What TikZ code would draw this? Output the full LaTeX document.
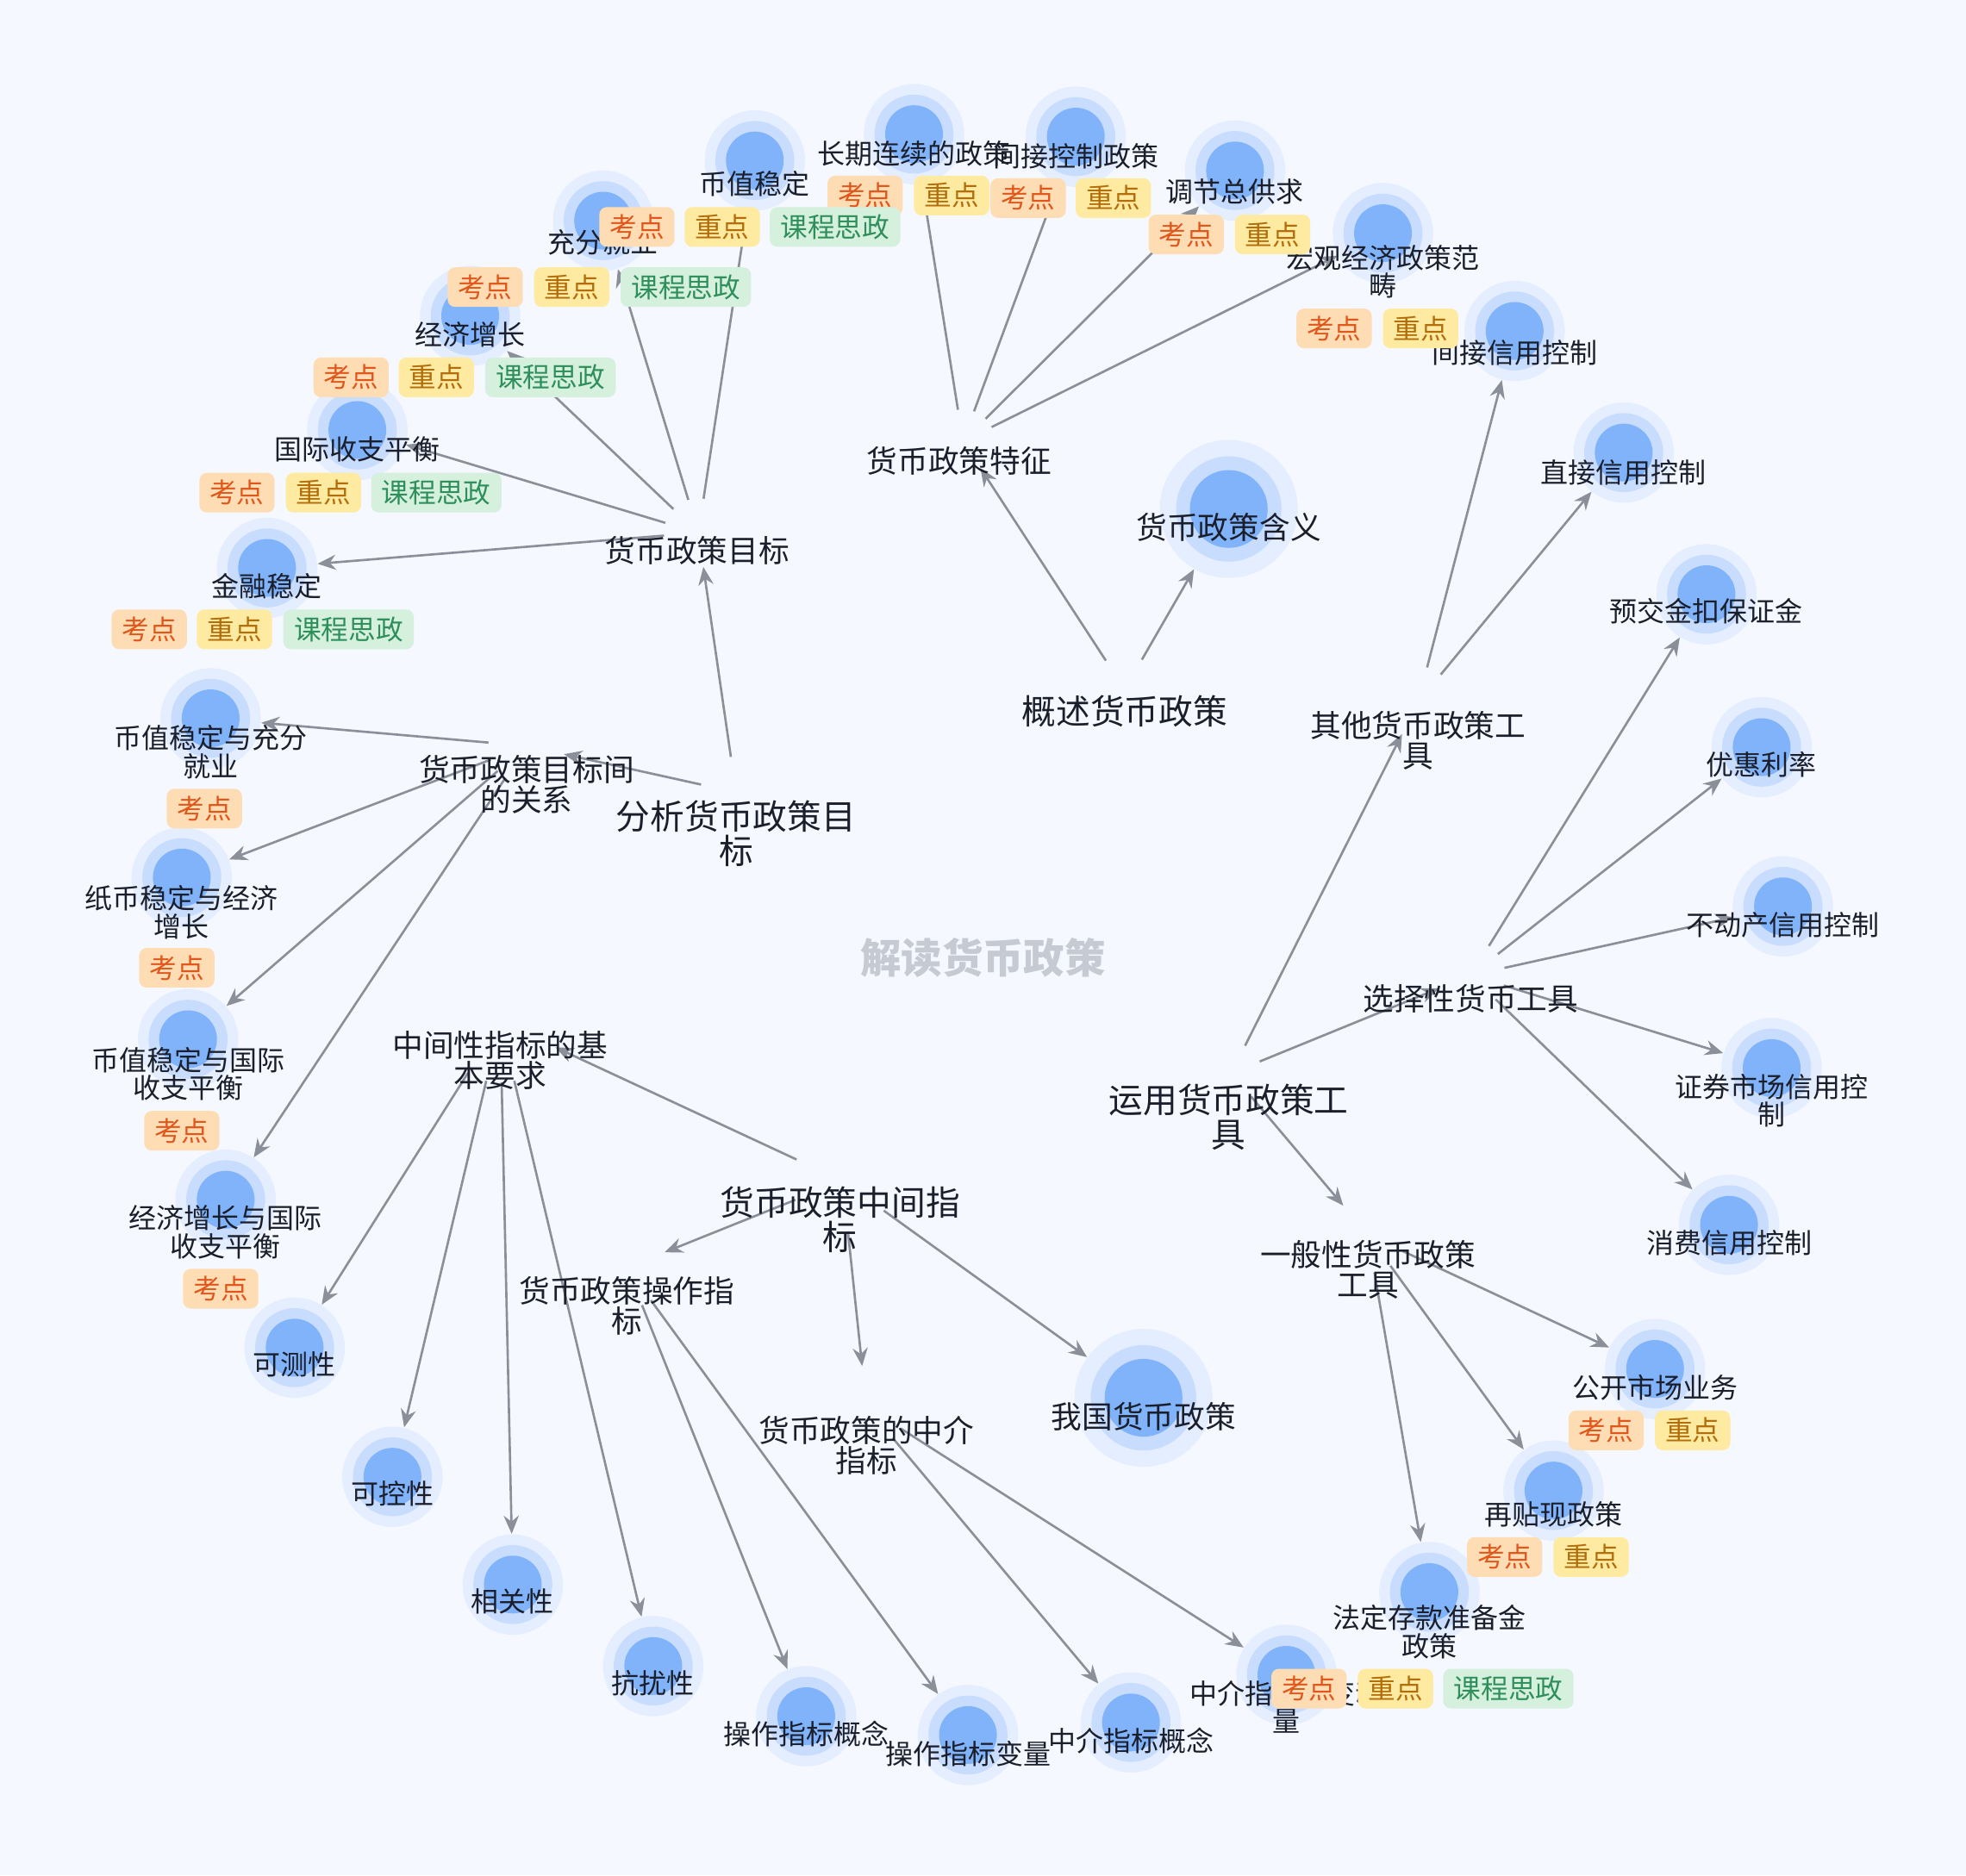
\documentclass[tikz,border=0pt]{standalone}
\usepackage{fontspec}
\newfontfamily\cjk{Noto Sans CJK SC}
\usetikzlibrary{arrows.meta}
\definecolor{paper}{HTML}{F5F8FE}
\definecolor{ink}{HTML}{1A1F2B}
\definecolor{edge}{HTML}{8B8F9A}
\definecolor{haloa}{HTML}{E4EEFE}
\definecolor{halob}{HTML}{C8DCFD}
\definecolor{haloc}{HTML}{80B3FA}
\definecolor{kdfill}{HTML}{FEDDB5}
\definecolor{kdtext}{HTML}{E0561B}
\definecolor{zdfill}{HTML}{FEEAA0}
\definecolor{zdtext}{HTML}{B36E0B}
\definecolor{szfill}{HTML}{D6F0DE}
\definecolor{sztext}{HTML}{2F8F5B}
\definecolor{titlegray}{HTML}{C5CAD3}
\tikzset{
  hub/.style={circle,inner sep=0pt,minimum size=#1,draw=none},
  leaf/.style={circle,inner sep=0pt,minimum size=1.164cm,fill=haloa,draw=none,
    path picture={\fill[halob] (path picture bounding box.center) circle (0.458cm);
                  \fill[haloc] (path picture bounding box.center) circle (0.335cm);}},
  bigleaf/.style={circle,inner sep=0pt,minimum size=1.6cm,fill=haloa,draw=none,
    path picture={\fill[halob] (path picture bounding box.center) circle (0.611cm);
                  \fill[haloc] (path picture bounding box.center) circle (0.451cm);}},
  leaflbl/.style={font=\cjk\fontsize{9.1pt}{9.2pt}\selectfont,text=ink,align=center,inner sep=0pt,anchor=north},
  midlbl/.style={font=\cjk\fontsize{10.15pt}{10pt}\selectfont,text=ink,align=center,inner sep=0pt,anchor=north},
  hublbl/.style={font=\cjk\fontsize{11.3pt}{11.5pt}\selectfont,text=ink,align=center,inner sep=0pt,anchor=north},
  tagbox/.style={rounded corners=2.5pt,inner sep=0pt,minimum height=0.46cm,font=\cjk\fontsize{9pt}{9pt}\selectfont},
  kaodian/.style={tagbox,fill=kdfill,text=kdtext,minimum width=0.873cm},
  zhongdian/.style={tagbox,fill=zdfill,text=zdtext,minimum width=0.873cm},
  sizheng/.style={tagbox,fill=szfill,text=sztext,minimum width=1.513cm},
  jt/.style={-{Stealth[length=6pt,width=5pt,inset=2pt]},draw=edge,line width=0.75pt},
}
\begin{document}
\begin{tikzpicture}[x=0.014547cm,y=-0.014547cm]
  \fill[paper] (0,0) rectangle (1568,1496);
  \useasboundingbox (0,0) rectangle (1568,1496);

  % hubs (no circle drawn)
  \node[hub=0.786cm] (gs) at (897,550) {};
  \node[hub=0.815cm] (fx) at (587,632) {};
  \node[hub=0.698cm] (yy) at (982,856) {};
  \node[hub=1.164cm] (zj) at (672,942) {};
  \node[hub=0.727cm] (tz) at (768,352) {};
  \node[hub=0.786cm] (mb) at (557,425) {};
  \node[hub=0.873cm] (gx) at (420,595) {};
  \node[hub=0.815cm] (qt) at (1131,560) {};
  \node[hub=0.786cm] (xz) at (1173,778) {};
  \node[hub=0.873cm] (yb) at (1091,985) {};
  \node[hub=1.396cm] (jb) at (399,815) {};
  \node[hub=0.931cm] (cz) at (500,1011) {};
  \node[hub=0.931cm] (zjz) at (691,1122) {};

  % leaves
  \node[bigleaf] (hy) at (980,406) {};
  \node[bigleaf] (wg) at (912,1115) {};
  \foreach \n/\x/\y in {bzwd/602/128,cfjy/481/176,jjzz/375/252,gjsz/285/343,jrwd/213/453,
      cqlx/729/107,jjkz/858/109,tjgq/985/136,hgjj/1103/186,
      jjxy/1208/264,zjxy/1295/361,yjj/1361/474,yhll/1405/596,bdc/1422/723,zqsc/1413/852,xfxy/1379/977,
      gksc/1320/1092,ztx/1239/1189,fdck/1140/1270,
      zjbl/1026/1336,zjgn/902/1374,czbl/772/1384,czgn/643/1369,
      kr/521/1329,xg/409/1264,kk/313/1178,kc/235/1075,
      r1/168/573,r2/145/700,r3/150/829,r4/180/957}
    \node[leaf] (\n) at (\x,\y) {};

  % connectors
  \foreach \a/\b in {gs/tz,gs/hy,tz/cqlx,tz/jjkz,tz/tjgq,tz/hgjj,
      fx/mb,fx/gx,mb/bzwd,mb/cfjy,mb/jjzz,mb/gjsz,mb/jrwd,
      gx/r1,gx/r2,gx/r3,gx/r4,
      yy/qt,yy/xz,yy/yb,qt/jjxy,qt/zjxy,
      xz/yjj,xz/yhll,xz/bdc,xz/zqsc,xz/xfxy,
      yb/gksc,yb/ztx,yb/fdck,
      zj/jb,zj/cz,zj/zjz,zj/wg,
      jb/kc,jb/kk,jb/xg,jb/kr,
      cz/czgn,cz/czbl,zjz/zjgn,zjz/zjbl}
    \draw[jt] (\a) -- (\b);

  % title
  \node[font=\cjk\bfseries\fontsize{13.5pt}{13.5pt}\selectfont,text=titlegray] (root) at (784,764) {解读货币政策};

  % hub labels
  \node[hublbl] (gs-t) at (897,554) {概述货币政策};
  \node[hublbl] (fx-t) at (587,638) {分析货币政策目\\标};
  \node[hublbl] (yy-t) at (980,864) {运用货币政策工\\具};
  \node[hublbl] (zj-t) at (670,946) {货币政策中间指\\标};
  \node[midlbl] (tz-t) at (765,356) {货币政策特征};
  \node[midlbl] (mb-t) at (556,427) {货币政策目标};
  \node[midlbl] (gx-t) at (420,602) {货币政策目标间\\的关系};
  \node[midlbl] (qt-t) at (1131,567) {其他货币政策工\\具};
  \node[midlbl] (xz-t) at (1173,785) {选择性货币工具};
  \node[midlbl] (yb-t) at (1091,989) {一般性货币政策\\工具};
  \node[midlbl] (jb-t) at (399,822) {中间性指标的基\\本要求};
  \node[midlbl] (cz-t) at (500,1018) {货币政策操作指\\标};
  \node[midlbl] (zjz-t) at (691,1129) {货币政策的中介\\指标};
  \node[midlbl] (hy-t) at (980,409) {货币政策含义};
  \node[midlbl] (wg-t) at (912,1118) {我国货币政策};

  % leaf labels
  \node[leaflbl] (bzwd-t) at (602,136) {币值稳定};
  \node[leaflbl] (cfjy-t) at (481,183) {充分就业};
  \node[leaflbl] (jjzz-t) at (375,256) {经济增长};
  \node[leaflbl] (gjsz-t) at (285,348) {国际收支平衡};
  \node[leaflbl] (jrwd-t) at (213,457) {金融稳定};
  \node[leaflbl] (cqlx-t) at (729,112) {长期连续的政策};
  \node[leaflbl] (jjkz-t) at (858,114) {间接控制政策};
  \node[leaflbl] (tjgq-t) at (985,142) {调节总供求};
  \node[leaflbl] (hgjj-t) at (1103,195) {宏观经济政策范\\畴};
  \node[leaflbl] (jjxy-t) at (1208,271) {间接信用控制};
  \node[leaflbl] (zjxy-t) at (1295,366) {直接信用控制};
  \node[leaflbl] (yjj-t) at (1361,477) {预交金扣保证金};
  \node[leaflbl] (yhll-t) at (1405,599) {优惠利率};
  \node[leaflbl] (bdc-t) at (1422,727) {不动产信用控制};
  \node[leaflbl] (zqsc-t) at (1413,856) {证券市场信用控\\制};
  \node[leaflbl] (xfxy-t) at (1379,981) {消费信用控制};
  \node[leaflbl] (gksc-t) at (1320,1096) {公开市场业务};
  \node[leaflbl] (ztx-t) at (1239,1197) {再贴现政策};
  \node[leaflbl] (fdck-t) at (1140,1280) {法定存款准备金\\政策};
  \node[leaflbl] (zjbl-t) at (1026,1340) {中介指标的变动\\量};
  \node[leaflbl] (zjgn-t) at (902,1378) {中介指标概念};
  \node[leaflbl] (czbl-t) at (772,1388) {操作指标变量};
  \node[leaflbl] (czgn-t) at (643,1372) {操作指标概念};
  \node[leaflbl] (kr-t) at (521,1332) {抗扰性};
  \node[leaflbl] (xg-t) at (409,1267) {相关性};
  \node[leaflbl] (kk-t) at (313,1181) {可控性};
  \node[leaflbl] (kc-t) at (235,1078) {可测性};
  \node[leaflbl] (r1-t) at (168,578) {币值稳定与充分\\就业};
  \node[leaflbl] (r2-t) at (145,706) {纸币稳定与经济\\增长};
  \node[leaflbl] (r3-t) at (150,835) {币值稳定与国际\\收支平衡};
  \node[leaflbl] (r4-t) at (180,961) {经济增长与国际\\收支平衡};

  % tags
  \foreach \n/\x/\y in {bzwd/508/181,cfjy/387/229,jjzz/280/301,gjsz/189/393,jrwd/119/502,
      cqlx/690/156,jjkz/820/158,tjgq/946/187,hgjj/1064/262,
      r1/163/645,r2/141/772,r3/145/902,r4/176/1028,
      gksc/1281/1141,ztx/1200/1242,fdck/1044/1347}
    \node[kaodian] (kd-\n) at (\x,\y) {考点};
  \foreach \n/\x/\y in {bzwd/576/181,cfjy/456/229,jjzz/348/301,gjsz/258/393,jrwd/187/502,
      cqlx/759/156,jjkz/888/158,tjgq/1015/187,hgjj/1133/262,
      gksc/1350/1141,ztx/1269/1242,fdck/1113/1347}
    \node[zhongdian] (zd-\n) at (\x,\y) {重点};
  \foreach \n/\x/\y in {bzwd/666/181,cfjy/547/229,jjzz/439/301,gjsz/348/393,jrwd/278/502,fdck/1203/1347}
    \node[sizheng] (sz-\n) at (\x,\y) {课程思政};
\end{tikzpicture}
\end{document}
